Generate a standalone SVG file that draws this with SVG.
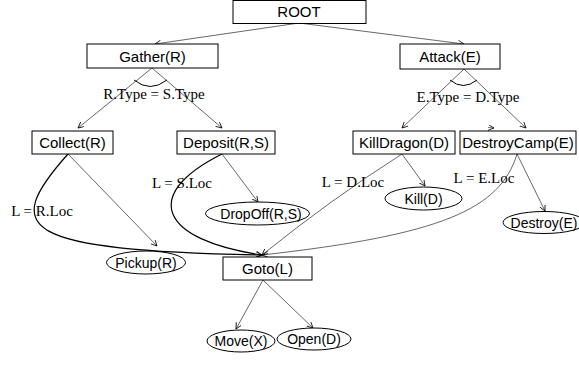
<svg xmlns="http://www.w3.org/2000/svg" width="579" height="369" viewBox="0 0 579 369">
<style>
.box{fill:#fff;stroke:#000;stroke-width:1}
.ell{fill:#fff;stroke:#000;stroke-width:1}
.t{font-family:"Liberation Sans",Arial,sans-serif;font-size:15px;fill:#000;text-anchor:middle}
.te{font-family:"Liberation Sans",Arial,sans-serif;font-size:14px;fill:#000;text-anchor:middle}
.lbl{font-family:"Liberation Serif","Times New Roman",serif;font-size:15px;fill:#000;text-anchor:middle}
.e{fill:none;stroke:#000;stroke-width:0.6;marker-end:url(#ah)}
.c{fill:none;stroke:#000;stroke-width:1.2;marker-end:url(#ah)}
.arc{fill:none;stroke:#000;stroke-width:1}
</style>
<defs>
<marker id="ah" markerUnits="userSpaceOnUse" markerWidth="8" markerHeight="8" refX="6" refY="3" orient="auto">
<path d="M0,0 L6,3 L0,6" fill="none" stroke="#000" stroke-width="0.8"/>
</marker>
</defs>
<rect width="579" height="369" fill="#fff"/>
<g id="connectors">
<path class="e" d="M299,23 L155,44"/>
<path class="e" d="M299,23 L464,44"/>
<path class="e" d="M152,68 L78,128"/>
<path class="e" d="M152,68 L222,128"/>
<path class="arc" d="M134,80 Q150,93 167,80"/>
<path class="e" d="M464,69 L402,128"/>
<path class="e" d="M464,69 L526,128"/>
<path class="arc" d="M450,80 Q463,91 477,80"/>
<path class="e" d="M488,127.5 L494,128"/>
<path class="e" d="M68,154 L157,246"/>
<path class="c" d="M68,154 C0,230 20,250 262,255"/>
<path class="e" d="M222,154 L258,202"/>
<path class="c" d="M222,154 C140,195 160,240 262,255"/>
<path class="e" d="M402,154 L425,186"/>
<path class="e" d="M402,154 Q330,200 262,255"/>
<path class="e" d="M517,154 L545,211"/>
<path class="e" d="M517,154 C500,210 440,235 262,255"/>
<path class="e" d="M263,280 L236,329"/>
<path class="e" d="M263,280 L313,328"/>
<text class="lbl" x="154" y="99">R.Type = S.Type</text>
<text class="lbl" x="468" y="102">E.Type = D.Type</text>
<text class="lbl" x="42" y="216">L = R.Loc</text>
<text class="lbl" x="182" y="188">L = S.Loc</text>
<text class="lbl" x="353" y="187">L = D.Loc</text>
<text class="lbl" x="484" y="183">L = E.Loc</text>
</g>
<g id="root"><rect class="box" x="233" y="0.5" width="133" height="23"/><text class="t" x="299" y="17">ROOT</text></g>
<g id="gather"><rect class="box" x="87" y="44" width="131" height="24"/><text class="t" x="152.5" y="61.5">Gather(R)</text></g>
<g id="attack"><rect class="box" x="400" y="44" width="100" height="25"/><text class="t" x="450" y="62">Attack(E)</text></g>
<g id="collect"><rect class="box" x="32" y="131" width="81" height="23"/><text class="t" x="72.5" y="148">Collect(R)</text></g>
<g id="deposit"><rect class="box" x="177" y="131" width="98" height="23"/><text class="t" x="226" y="148">Deposit(R,S)</text></g>
<g id="killdragon"><rect class="box" x="353" y="131" width="102" height="23"/><text class="t" x="404" y="148">KillDragon(D)</text></g>
<g id="destroycamp"><rect class="box" x="460" y="131" width="116" height="23"/><text class="t" x="518" y="148">DestroyCamp(E)</text></g>
<g id="dropoff"><ellipse class="ell" cx="257.5" cy="213.5" rx="52" ry="11.5"/><text class="te" x="261" y="218.5">DropOff(R,S)</text></g>
<g id="kill"><ellipse class="ell" cx="423.5" cy="198.5" rx="38.5" ry="11.5"/><text class="te" x="423.5" y="203.5">Kill(D)</text></g>
<g id="destroy"><ellipse class="ell" cx="544" cy="222.5" rx="41" ry="11"/><text class="te" x="544" y="227.5">Destroy(E)</text></g>
<g id="pickup"><ellipse class="ell" cx="146" cy="262.5" rx="39.5" ry="11.5"/><text class="te" x="146" y="267.5">Pickup(R)</text></g>
<g id="goto"><rect class="box" x="223" y="257" width="89" height="23"/><text class="t" x="267.5" y="274">Goto(L)</text></g>
<g id="move"><ellipse class="ell" cx="241" cy="341" rx="34" ry="11"/><text class="te" x="241" y="346">Move(X)</text></g>
<g id="open"><ellipse class="ell" cx="314" cy="339" rx="37" ry="11"/><text class="te" x="314" y="344">Open(D)</text></g>
</svg>
